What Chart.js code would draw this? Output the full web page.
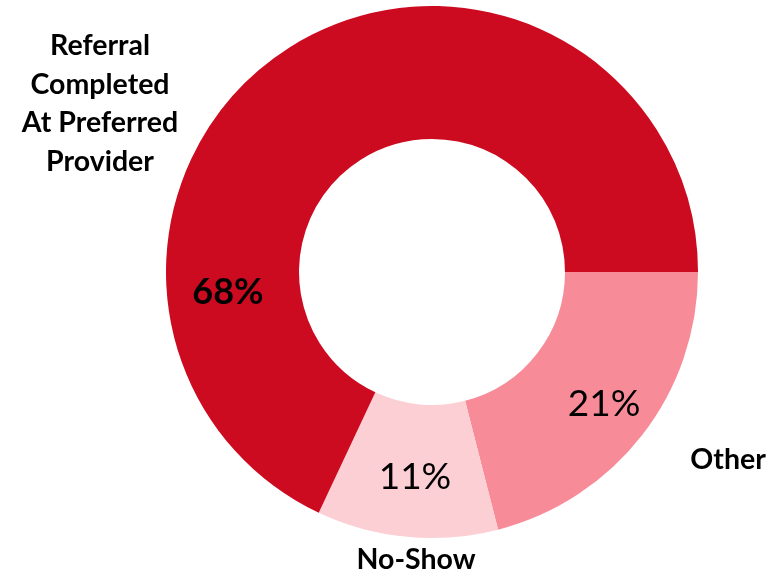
<!DOCTYPE html>
<html>
<head>
<meta charset="utf-8">
<script src="https://cdn.jsdelivr.net/npm/chart.js@4/dist/chart.umd.min.js"></script>
<style>
html,body{margin:0;padding:0;background:#fff;}
#wrap{width:778px;height:577px;position:relative;}
</style>
</head>
<body>
<div id="wrap"><canvas id="c" width="778" height="577"></canvas></div>
<script>
const categories = ["Other", "No-Show", "Referral Completed At Preferred Provider"];
const categoryLines = [["Other"], ["No-Show"], ["Referral", "Completed", "At Preferred", "Provider"]];
const values = [21, 11, 68];
const valueLabels = ["21%", "11%", "68%"];
const colors = ["#F78C98", "#FBCFD4", "#CC0A20"];

const labelPlugin = {
  id: 'labelPlugin',
  afterDraw(chart) {
    const ctx = chart.ctx;
    const meta = chart.getDatasetMeta(0);
    const arc0 = meta.data[0];
    const cx = arc0.x, cy = arc0.y, r = arc0.outerRadius;
    // placement per slice: [value label dx,dy], [category label dx,dy] in units of radius
    const place = [
      {v:[0.647,0.496], c:[1.113,0.707]},
      {v:[-0.064,0.771], c:[-0.060,1.083]},
      {v:[-0.767,0.075], c:[-1.248,-0.632]}
    ];
    const valFonts = ["400 37px Lato", "400 37px Lato", "700 36px Lato"];
    ctx.save();
    ctx.fillStyle = "#000";
    ctx.textAlign = "center";
    ctx.textBaseline = "middle";
    values.forEach((v, i) => {
      const p = place[i];
      ctx.font = valFonts[i];
      ctx.fillText(valueLabels[i], cx + p.v[0]*r, cy + p.v[1]*r);
      ctx.font = "700 28.5px Lato";
      const lines = categoryLines[i];
      const lh = 38.5;
      const y0 = cy + p.c[1]*r - (lines.length-1)*lh/2;
      lines.forEach((ln, k) => ctx.fillText(ln, cx + p.c[0]*r, y0 + k*lh));
    });
    ctx.restore();
  }
};

new Chart(document.getElementById('c'), {
  type: 'doughnut',
  data: {
    labels: categories,
    datasets: [{
      data: values,
      backgroundColor: colors,
      borderWidth: 0
    }]
  },
  options: {
    responsive: false,
    animation: false,
    rotation: 90,
    cutout: '50%',
    layout: {padding: {left: 166, right: 80, top: 6, bottom: 39}},
    plugins: {legend: {display: false}, tooltip: {enabled: false}}
  },
  plugins: [labelPlugin]
});
</script>
</body>
</html>
